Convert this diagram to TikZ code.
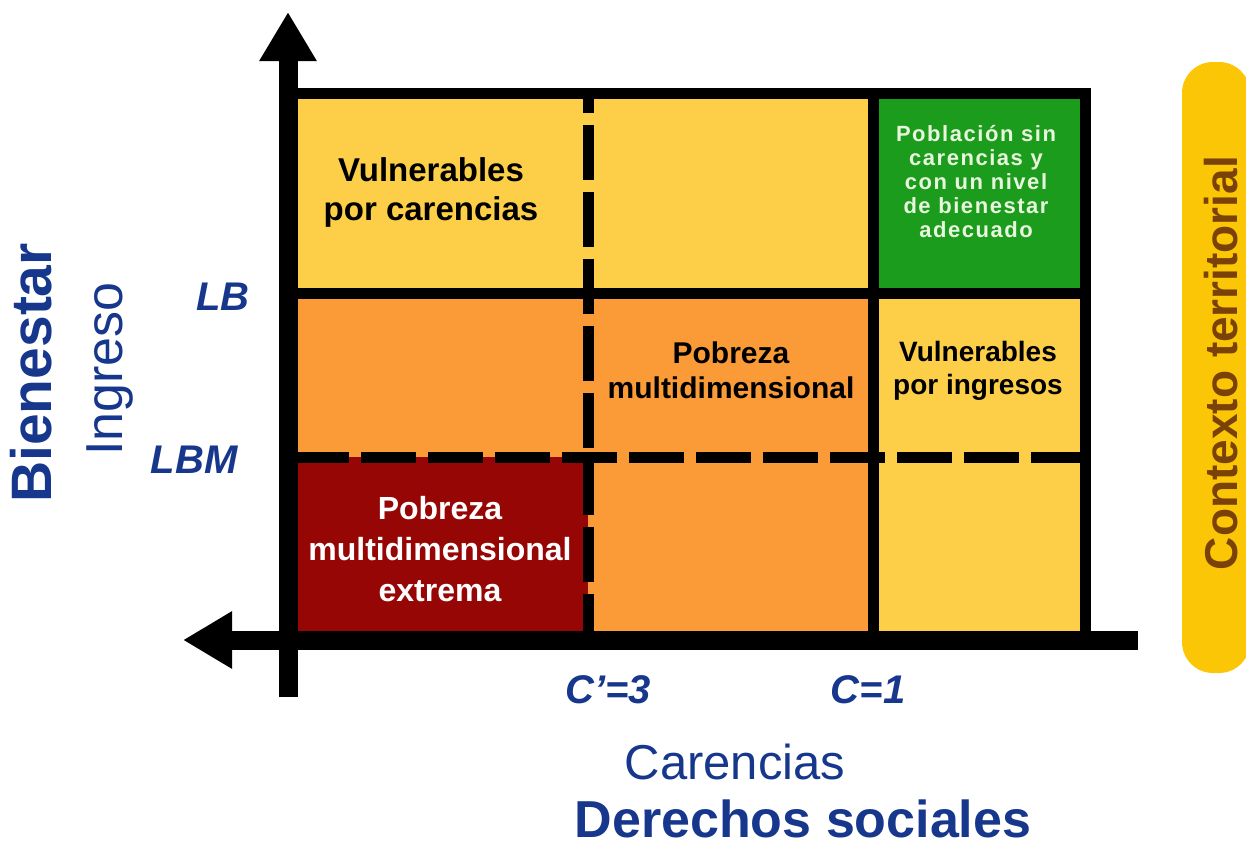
\documentclass[tikz,border=0pt]{standalone}
\usepackage{fontspec}
\setmainfont{Liberation Sans}
\usetikzlibrary{arrows.meta}
\newcommand{\tam}[2]{\fontsize{#1}{#2}\selectfont}
\definecolor{amarillo}{RGB}{253,206,72}
\definecolor{naranja}{RGB}{250,155,55}
\definecolor{rojo}{RGB}{150,6,5}
\definecolor{verde}{RGB}{28,156,28}
\definecolor{verdeclaro}{RGB}{232,246,222}
\definecolor{azul}{RGB}{22,55,140}
\definecolor{dorado}{RGB}{250,198,5}
\definecolor{cafe}{RGB}{122,66,8}

\begin{document}
\begin{tikzpicture}[x=1pt,y=-1pt,
  borde/.style={line width=11pt},
  corte/.style={line width=11pt,dash pattern=on 55pt off 12pt},
  eje/.style={line width=19pt,-{Triangle[length=49pt,width=54pt]}},
  caja/.style 2 args={align=center,font=\bfseries\tam{#1}{#2}},
  umbral/.style={text=azul,font=\bfseries\itshape\tam{40}{40}}]
\useasboundingbox (0,0) rectangle (1246,846);
\clip (0,0) rectangle (1246,846);
\coordinate (origen) at (288,640);
\coordinate (arriba) at (288,12);
\coordinate (abajo) at (288,697);
\coordinate (izq) at (183,640);
\coordinate (der) at (1138,640);
\fill[amarillo] (288,93) rectangle (873,293);
\fill[verde] (873,93) rectangle (1085,293);
\fill[naranja] (288,293) rectangle (873,640);
\fill[amarillo] (873,293) rectangle (1085,640);
\fill[rojo] (288,457) rectangle (588,640);
\fill[dorado, rounded corners=31pt] (1182,62) rectangle (1250,673);
\draw[borde] (282,93) -- (1090,93);
\draw[borde] (1085,88) -- (1085,640);
\draw[borde] (288,293) -- (1085,293);
\draw[borde] (873,93) -- (873,640);
\draw[corte,dash phase=35pt] (588,93) -- (588,640);
\draw[corte] (294,457) -- (1085,457);
\draw[eje] (abajo) -- (arriba);
\draw[eje] (der) -- (izq);
\node[caja={33}{39}] (vcarencias) at (431,192) {Vulnerables\\por carencias};
\node[align=center,text=verdeclaro,font=\bfseries\tam{22}{24}\addfontfeature{LetterSpace=7}] (sincarencias) at (976,182) {Población sin\\carencias y\\con un nivel\\de bienestar\\adecuado};
\node[caja={30}{35}] (pobreza) at (731,370) {Pobreza\\multidimensional};
\node[caja={28}{33}] (vingresos) at (978,371) {Vulnerables\\por ingresos};
\node[caja={32}{41},text=white] (extrema) at (440,549) {Pobreza\\multidimensional\\extrema};
\node[umbral] (lb) at (223,297) {LB};
\node[umbral] (lbm) at (194,460) {LBM};
\node[umbral] (cprima) at (608,690) {C’=3};
\node[umbral] (cuno) at (868,690) {C=1};
\node[rotate=90,anchor=base,text=azul,font=\bfseries\tam{57}{57}] (bienestar) at (51,373) {Bienestar};
\node[rotate=90,anchor=base,text=azul,font=\tam{52}{52}] (ingreso) at (122,369) {Ingreso};
\node[anchor=base,text=azul,font=\tam{49}{49}] (carencias) at (735,779) {Carencias};
\node[anchor=base,text=azul,font=\bfseries\tam{52}{52}] (derechos) at (803,837) {Derechos sociales};
\node[rotate=90,anchor=base,inner sep=0pt,text=cafe,font=\bfseries\tam{46}{46}] (contexto) at (1237,363) {Contexto territorial};
\end{tikzpicture}
\end{document}
